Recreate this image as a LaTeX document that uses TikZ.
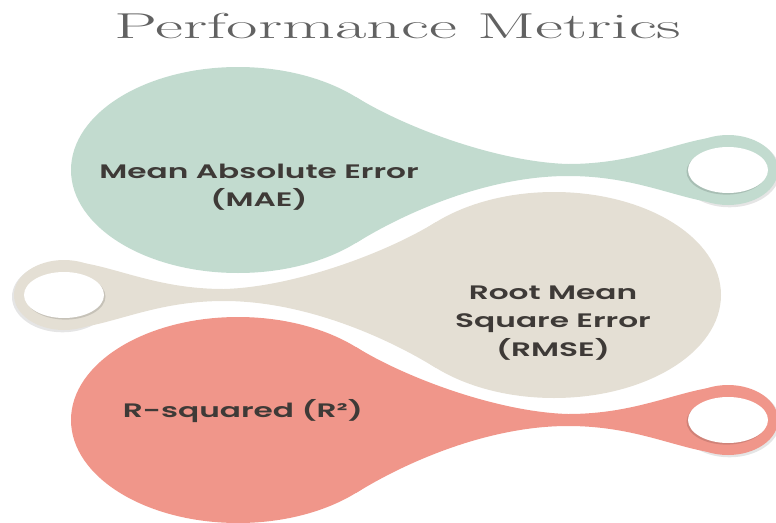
\documentclass[tikz,border=0pt]{standalone}
\usepackage{fontspec}
\newfontfamily\bodyfont{Poppins SemiBold}
\definecolor{mgreen}{HTML}{C2DBCF}
\definecolor{mbeige}{HTML}{E4DFD4}
\definecolor{msalmon}{HTML}{F0968A}
\definecolor{txt}{HTML}{3E3A37}
\definecolor{ttl}{HTML}{626262}
\tikzset{
  pics/tagshape/.style={code={
    \fill[black, opacity=0.10] (491.5,1.8) ellipse [x radius=50.5pt, y radius=35.5pt];
    \fill[#1] (0,0) ellipse [x radius=167pt, y radius=103pt];
    \fill[#1] (118,-73) .. controls (168,-42) and (260,-8) .. (330,-6)
       .. controls (400,-6) and (440,-30) .. (485,-34) -- (485,34)
       .. controls (440,30) and (400,6) .. (330,6)
       .. controls (250,6) and (168,42) .. (118,73) -- cycle;
    \fill[#1] (490,0) ellipse [x radius=50pt, y radius=35pt];
    \fill[black, opacity=0.13] (488.5,1.6) ellipse [x radius=40pt, y radius=23pt];
    \fill[white] (490,0) ellipse [x radius=40pt, y radius=23pt];
  }},
  lbl/.style={text=txt, align=center, inner sep=0pt,
    font=\bodyfont\fontsize{19.5}{28.5}\selectfont},
}
\begin{document}
\begin{tikzpicture}[x=1pt, y=-1pt]
\useasboundingbox (0,0) rectangle (776,522);
\pic (mae) at (238,170) {tagshape=mgreen};
\pic[xscale=-1] (rmse) at (554,295) {tagshape=mbeige};
\pic (rsq) at (238,420) {tagshape=msalmon};
\node[text=ttl, inner sep=0pt] (title) at (398,26)
  {\scalebox{1.9}[1]{\fontsize{36}{40}\selectfont Performance Metrics}};
\node[lbl] (t1) at (259,187) {\scalebox{1.6}[1]{\begin{tabular}{@{}c@{}}Mean Absolute Error\\(MAE)\end{tabular}}};
\node[lbl] (t2) at (553,322) {\scalebox{1.6}[1]{\begin{tabular}{@{}c@{}}Root Mean\\Square Error\\(RMSE)\end{tabular}}};
\node[lbl] (t3) at (243,411) {\scalebox{1.6}[1]{R-squared (R²)}};
\end{tikzpicture}
\end{document}
